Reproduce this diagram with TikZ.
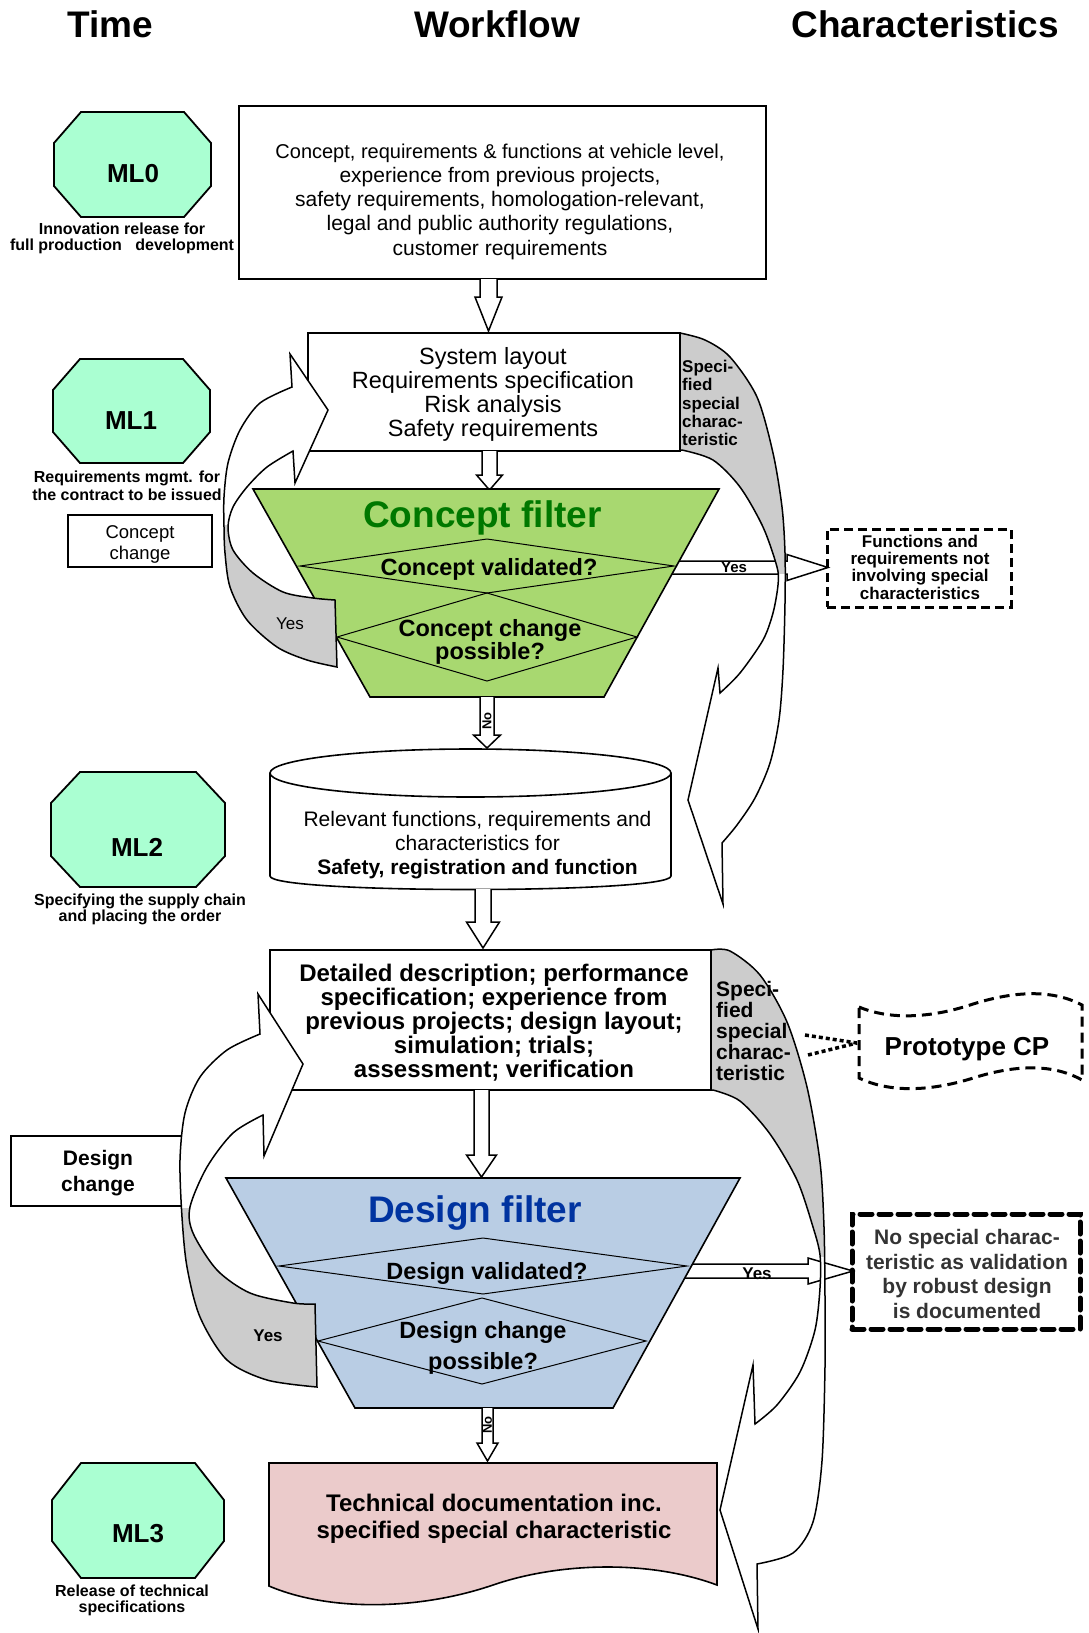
\documentclass[tikz,border=0pt]{standalone}
\usepackage{fontspec}
\setmainfont{Liberation Sans}
\usetikzlibrary{calc}

\definecolor{mint}{RGB}{170,255,210}
\definecolor{shade}{RGB}{204,204,204}
\definecolor{filtgreen}{RGB}{168,216,112}
\definecolor{titlegreen}{RGB}{0,120,0}
\definecolor{filtblue}{RGB}{185,205,228}
\definecolor{titleblue}{RGB}{0,51,160}
\definecolor{docpink}{RGB}{235,203,203}

\newcommand{\fsz}[2]{\fontsize{#1pt}{#2pt}\selectfont}

% octagon: x1, y1, x2, y2, horizontal chamfer, vertical chamfer
\newcommand{\octagon}[6]{%
  \filldraw[octa] ({#1+#5},#2) -- ({#3-#5},#2) -- (#3,{#2+#6}) -- (#3,{#4-#6})
    -- ({#3-#5},#4) -- ({#1+#5},#4) -- (#1,{#4-#6}) -- (#1,{#2+#6}) -- cycle;}

% hollow block arrow pointing down: centre x, top y, head y, tip y, half shaft, half head
\newcommand{\blockdown}[6]{%
  \filldraw[blockarr] ({#1-#5},#2) -- ({#1-#5},#3) -- ({#1-#6},#3) -- (#1,#4)
    -- ({#1+#6},#3) -- ({#1+#5},#3) -- ({#1+#5},#2);}

% hollow block arrow pointing right: start x, centre y, head x, tip x, half shaft, half head
\newcommand{\blockright}[6]{%
  \filldraw[blockarr] (#1,{#2-#5}) -- (#3,{#2-#5}) -- (#3,{#2-#6}) -- (#4,#2)
    -- (#3,{#2+#6}) -- (#3,{#2+#5}) -- (#1,{#2+#5});}

% decision rhombus: centre x, centre y, half width, half height
\newcommand{\decision}[4]{%
  \draw[diam] ({#1-#3},#2) -- (#1,{#2-#4}) -- ({#1+#3},#2) -- (#1,{#2+#4}) -- cycle;}

% curved feedback arrow of the concept loop
\newcommand{\conceptloop}[1]{%
  \path[#1] (335,600) -- (337,667)
    -- plot[smooth] coordinates {(337,667) (307,660) (277,647) (247,620) (230,587) (225,553) (224,527) (224,497) (228,463) (240,430) (260,403) (292,387)}
    -- (290,354) -- (328,410) -- (295,483) -- (293,451)
    -- plot[smooth] coordinates {(293,451) (267,467) (247,487) (233,507) (228,527) (233,550) (253,573) (283,592) (313,598) (335,600)}
    -- cycle;}

% curved arrow carrying the special characteristic (concept phase)
\newcommand{\conceptside}[1]{%
  \path[#1] (680,333)
    -- plot[smooth] coordinates {(680,333) (705,340) (730,357) (757,397) (773,453) (782,507) (785,553) (785,603) (783,670) (779,720) (770,763) (755,798) (737,825) (722,843)}
    -- (723,904) -- (688,800) -- (718,668) -- (720,693)
    -- plot[smooth] coordinates {(720,693) (740,673) (763,640) (773,613) (778,585) (777,567) (763,527) (740,487) (713,460) (682,450)}
    -- (680,450) -- cycle;}

% curved feedback arrow of the design loop
\newcommand{\designloop}[1]{%
  \path[#1] (315,1304) -- (317,1387)
    -- plot[smooth] coordinates {(317,1387) (267,1380) (227,1360) (200,1317) (187,1267) (182,1217) (180,1160) (185,1113) (200,1077) (227,1050) (260,1034)}
    -- (258,994) -- (303,1064) -- (264,1156) -- (263,1115)
    -- plot[smooth] coordinates {(263,1115) (233,1133) (207,1167) (190,1207) (193,1233) (217,1270) (250,1293) (293,1303) (315,1304)}
    -- cycle;}

% curved arrow carrying the special characteristic (design phase)
\newcommand{\designside}[1]{%
  \path[#1] (711,950)
    -- plot[smooth] coordinates {(711,950) (730,951) (760,975) (787,1022) (807,1087) (820,1162) (824,1227) (825,1297) (825,1367) (822,1461) (813,1522) (793,1553) (757,1564)}
    -- (758,1629) -- (720,1510) -- (753,1365) -- (755,1424)
    -- plot[smooth] coordinates {(755,1424) (777,1405) (800,1372) (815,1330) (820,1288) (820,1255) (813,1227) (797,1180) (770,1134) (740,1101) (713,1090)}
    -- (711,1090) -- cycle;}

\begin{document}
\begin{tikzpicture}[x=1pt, y=-1pt,
  box/.style={draw, line width=1.8pt, fill=white, inner sep=0pt},
  octa/.style={draw, line width=1.8pt, fill=mint},
  blockarr/.style={draw, line width=1.5pt, fill=white},
  diam/.style={line width=1pt},
  txt/.style={inner sep=0pt, align=center},
  curve/.style={draw, line width=1.5pt}]
\useasboundingbox (0,0) rectangle (1088,1633);

% column headings
\node[txt, anchor=base, font=\fsz{37}{40}\bfseries] (hTime) at (110,37) {Time};
\node[txt, anchor=base, font=\fsz{37}{40}\bfseries] (hFlow) at (497,37) {Workflow};
\node[txt, anchor=base, font=\fsz{37}{40}\bfseries] (hChar) at (925,37) {Characteristics};

% milestones
\octagon{54}{112}{211}{217}{27}{31}
\octagon{53}{359}{210}{463}{27}{31}
\octagon{51}{772}{225}{887}{29}{31}
\octagon{52}{1463}{224}{1578}{29}{37}
\node[txt, anchor=base, font=\fsz{26}{28}\bfseries] (ml0) at (133,182) {ML0};
\node[txt, anchor=base, font=\fsz{26}{28}\bfseries] (ml1) at (131,429) {ML1};
\node[txt, anchor=base, font=\fsz{26}{28}\bfseries] (ml2) at (137,856) {ML2};
\node[txt, anchor=base, font=\fsz{26}{28}\bfseries] (ml3) at (138,1542) {ML3};
\node[txt, font=\fsz{16}{16}\bfseries] (ml0cap) at (122,238.6) {Innovation release for\\full production\ \ \ development};
\node[txt, font=\fsz{16}{18}\bfseries] (ml1cap) at (127,486) {Requirements mgmt. for\\the contract to be issued};
\node[txt, font=\fsz{16}{16}\bfseries] (ml2cap) at (140,909.6) {Specifying the supply chain\\and placing the order};
\node[txt, font=\fsz{16}{16}\bfseries] (ml3cap) at (132,1600.6) {Release of technical\\specifications};

% change boxes
\node[box, minimum width=144pt, minimum height=52pt] (cchange) at (140,541) {};
\node[txt, font=\fsz{18.5}{21}] (cchangetxt) at (140,544.4) {Concept\\change};
\node[box, minimum width=171pt, minimum height=70pt] (dchange) at (96.5,1171) {};
\node[txt, font=\fsz{21}{26}\bfseries] (dchangetxt) at (98,1173) {Design\\change};

% vehicle level inputs
\node[box, line width=2.4pt, minimum width=527pt, minimum height=173pt] (inputs) at (502.5,192.5) {};
\node[txt, font=\fsz{21}{24.25}] (inputstxt) at (500,201.5) {{\fsz{20}{24.25}Concept, requirements \& functions at vehicle level,}\\experience from previous projects,\\safety requirements, homologation-relevant,\\legal and public authority regulations,\\customer requirements};
\blockdown{488.5}{279}{297}{331}{8.5}{13.5}

% system layout
\node[box, minimum width=372pt, minimum height=118pt] (layout) at (494,392) {};
\node[txt, font=\fsz{23.5}{24}] (layouttxt) at (493,394) {System layout\\Requirements specification\\Risk analysis\\Safety requirements};
\blockdown{489.5}{451}{475}{490}{7.5}{13}

% concept filter
\blockright{665}{567.5}{787}{828}{6.5}{13}
\node[txt, anchor=base, font=\fsz{15}{15}\bfseries] (cyes) at (734,572.5) {Yes};
\filldraw[line width=1.6pt, fill=filtgreen] (253,489) -- (719,489) -- (604,697) -- (370,697) -- cycle;
\decision{487}{566}{187}{27}
\decision{487}{637}{150}{44}
\node[txt, anchor=base, font=\fsz{37}{40}\bfseries, text=titlegreen] (cfilter) at (482.5,527) {Concept filter};
\node[txt, anchor=base, font=\fsz{23.5}{24}\bfseries] (cvalid) at (489,575) {Concept validated?};
\node[txt, font=\fsz{23.5}{23}\bfseries] (cposs) at (490,641.8) {Concept change\\possible?};

% concept feedback loop
\conceptloop{fill=white}
\begin{scope}
  \clip (0,525) rectangle (400,700);
  \conceptloop{fill=shade}
\end{scope}
\conceptloop{curve}
\node[txt, anchor=base, font=\fsz{17}{17}] (cloopyes) at (290,629) {Yes};

% special characteristic from the concept phase
\conceptside{fill=white}
\begin{scope}
  \clip (600,300) rectangle (900,573);
  \conceptside{fill=shade}
\end{scope}
\conceptside{curve}
\node[txt, anchor=west, align=left, font=\fsz{17}{18.4}\bfseries] (cspec) at (682,403) {Speci-\\fied\\special\\charac-\\teristic};

\node[draw, line width=3pt, dash pattern=on 9pt off 5pt, minimum width=184pt, minimum height=78pt, inner sep=0pt] (nospec) at (919,568) {};
\node[txt, font=\fsz{17}{17.3}\bfseries] (nospectxt) at (920,567) {Functions and\\requirements not\\involving special\\characteristics};

% relevant functions store
\blockdown{487}{697}{735}{748}{7}{13.5}
\node[txt, rotate=90, font=\fsz{13}{13}\bfseries] (cno) at (487,721) {No};
\filldraw[line width=1.6pt, fill=white] (270,773) -- (270,876) .. controls (270,894) and (671,894) .. (671,876) -- (671,773);
\filldraw[line width=1.6pt, fill=white] (470.5,773) ellipse [x radius=200.5, y radius=24];
\node[txt, font=\fsz{21}{24}] (storetxt) at (477.5,845) {Relevant functions, requirements and\\characteristics for\\\textbf{Safety, registration and function}};
\blockdown{483}{889}{922}{948}{8}{16.5}

% detailed design work
\node[box, minimum width=441pt, minimum height=140pt] (detail) at (490.5,1020) {};
\node[txt, font=\fsz{24}{24.2}\bfseries] (detailtxt) at (494,1022.6) {Detailed description; performance\\specification; experience from\\previous projects; design layout;\\simulation; trials;\\assessment; verification};
\blockdown{481.5}{1090}{1155}{1177}{7.5}{15}

% design filter
\blockright{680}{1271}{808}{853}{7}{13}
\node[txt, anchor=base, font=\fsz{17}{17}\bfseries] (dyes) at (757,1279) {Yes};
\filldraw[line width=1.6pt, fill=filtblue] (226,1178) -- (740,1178) -- (613,1408) -- (355,1408) -- cycle;
\decision{483}{1266}{204}{28}
\decision{482}{1341}{164}{43}
\node[txt, anchor=base, font=\fsz{37}{40}\bfseries, text=titleblue] (dfilter) at (475,1222) {Design filter};
\node[txt, anchor=base, font=\fsz{23.5}{24}\bfseries] (dvalid) at (487,1279) {Design validated?};
\node[txt, anchor=base, font=\fsz{23.5}{24}\bfseries] (dposs1) at (483,1338) {Design change};
\node[txt, anchor=base, font=\fsz{23.5}{24}\bfseries] (dposs2) at (483,1369) {possible?};

% design feedback loop
\designloop{fill=white}
\begin{scope}
  \clip (0,1208) rectangle (400,1400);
  \designloop{fill=shade}
\end{scope}
\designloop{curve}
\node[txt, anchor=base, font=\fsz{17}{17}\bfseries] (dloopyes) at (268,1341) {Yes};

% special characteristic from the design phase
\designside{fill=white}
\begin{scope}
  \clip (650,900) rectangle (900,1256);
  \designside{fill=shade}
\end{scope}
\designside{curve}
\node[txt, anchor=west, align=left, font=\fsz{21}{21}\bfseries] (dspec) at (716,1031) {Speci-\\fied\\special\\charac-\\teristic};

% prototype control plan
\draw[line width=3pt, dash pattern=on 10pt off 6pt] (859,1007) .. controls (890,1020) and (930,1018) .. (970,1005) .. controls (1010,992) and (1050,988) .. (1082,1005) -- (1082,1080) .. controls (1050,1062) and (1010,1066) .. (970,1079) .. controls (930,1091) and (890,1093) .. (859,1078) -- cycle;
\node[txt, anchor=base, font=\fsz{26}{28}\bfseries] (proto) at (967,1055) {Prototype CP};
\coordinate (protoptr) at (857,1043);
\coordinate (ptrA) at (805,1035);
\coordinate (ptrB) at (808,1055);
\draw[line width=3.5pt, dash pattern=on 4pt off 3pt] (ptrA) -- (protoptr);
\draw[line width=3.5pt, dash pattern=on 4pt off 3pt] (ptrB) -- (protoptr);

\node[draw, line width=5pt, line cap=round, dash pattern=on 12pt off 7pt, minimum width=228pt, minimum height=115pt, inner sep=0pt] (robust) at (966,1271.5) {};
\node[txt, font=\fsz{21}{24.6}\bfseries, text=black!80] (robusttxt) at (967,1274) {No special charac-\\teristic as validation\\by robust design\\is documented};

% technical documentation
\blockdown{487.5}{1408}{1443}{1461}{5.5}{10.5}
\node[txt, rotate=90, font=\fsz{13}{13}\bfseries] (dno) at (487.5,1425) {No};
\filldraw[line width=1.6pt, fill=docpink] (269,1463) -- (717,1463) -- (717,1585) .. controls (650,1560) and (560,1562) .. (493,1585) .. controls (420,1610) and (330,1612) .. (269,1586) -- cycle;
\node[txt, font=\fsz{24}{27}\bfseries] (doctxt) at (494,1518.4) {Technical documentation inc.\\specified special characteristic};

\end{tikzpicture}
\end{document}
